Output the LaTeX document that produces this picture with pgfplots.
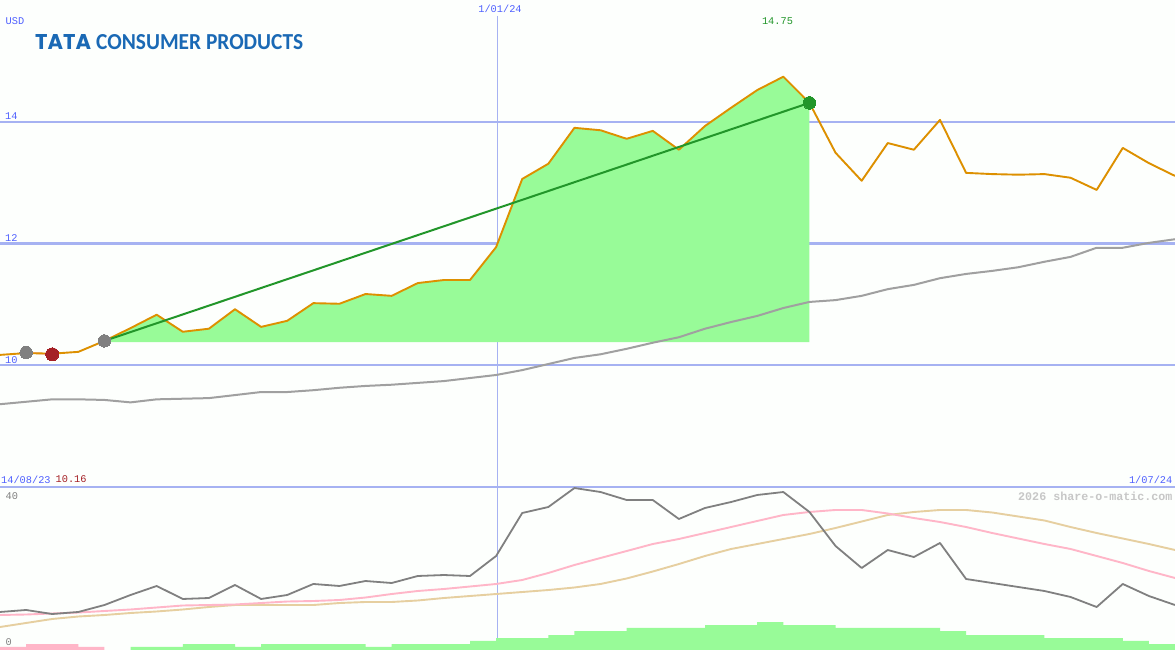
\documentclass[border=0pt]{standalone}
\usepackage{fontspec}
\usepackage{pgfplots}
\pgfplotsset{compat=1.18}
\usepackage{pgfplotstable}
\newfontfamily\mono{Liberation Mono}
\newfontfamily\logofont{Carlito}
\newfontfamily\logoheavy{Poppins}
\definecolor{bgc}{HTML}{FDFFFD}
\definecolor{gridc}{HTML}{A6B2F2}
\definecolor{sepc}{HTML}{7B8BEE}
\definecolor{txtblue}{HTML}{4F60FF}
\definecolor{pricec}{HTML}{DD9000}
\definecolor{fillg}{HTML}{98FB98}
\definecolor{trendg}{HTML}{22962A}
\definecolor{magray}{HTML}{A0A0A0}
\definecolor{dgray}{HTML}{808080}
\definecolor{pinkc}{HTML}{FFB6C8}
\definecolor{tanc}{HTML}{E6CFA0}
\definecolor{redc}{HTML}{A52025}
\definecolor{logoc}{HTML}{1A69B5}
\pgfplotstableread{
i price ma
0 10.17 9.36
1 10.20 9.40
2 10.19 9.44
3 10.22 9.44
4 10.40 9.43
5 10.61 9.39
6 10.83 9.44
7 10.55 9.45
8 10.60 9.46
9 10.92 9.51
10 10.63 9.56
11 10.73 9.56
12 11.02 9.59
13 11.01 9.63
14 11.17 9.66
15 11.14 9.68
16 11.35 9.71
17 11.40 9.74
18 11.40 9.79
19 11.94 9.84
20 13.06 9.92
21 13.31 10.02
22 13.90 10.12
23 13.86 10.18
24 13.72 10.27
25 13.85 10.37
26 13.54 10.46
27 13.93 10.60
28 14.23 10.71
29 14.52 10.81
30 14.74 10.94
31 14.31 11.04
32 13.49 11.07
33 13.03 11.14
34 13.65 11.25
35 13.54 11.32
36 14.03 11.43
37 13.16 11.50
38 13.14 11.55
39 13.13 11.61
40 13.14 11.70
41 13.08 11.78
42 12.88 11.93
43 13.57 11.93
44 13.32 12.01
45 13.11 12.07
}\pricetable
\pgfplotstableread{
i osc fast slow
0 9.33 8.59 5.64
1 9.82 8.71 6.63
2 8.83 8.96 7.61
3 9.33 9.20 8.22
4 11.04 9.57 8.59
5 13.50 9.94 9.08
6 15.71 10.43 9.45
7 12.52 10.92 9.94
8 12.76 11.04 10.55
9 15.95 11.17 11.04
10 12.52 11.53 11.04
11 13.50 11.90 11.04
12 16.20 12.02 11.04
13 15.71 12.27 11.53
14 16.93 12.88 11.78
15 16.44 13.74 11.78
16 18.16 14.48 12.15
17 18.40 14.97 12.76
18 18.16 15.58 13.25
19 23.07 16.20 13.74
20 33.62 17.18 14.23
21 35.09 18.90 14.72
22 39.75 20.86 15.34
23 38.77 22.58 16.20
24 36.81 24.29 17.55
25 36.81 26.01 19.26
26 32.15 27.24 21.10
27 34.85 28.71 23.07
28 36.32 30.18 24.79
29 38.04 31.66 26.01
30 38.77 33.13 27.24
31 33.87 33.87 28.47
32 25.52 34.36 29.94
33 20.12 34.36 31.53
34 24.54 33.50 33.13
35 22.82 32.39 33.87
36 26.26 31.41 34.36
37 17.42 30.18 34.36
38 16.44 28.71 33.74
39 15.46 27.36 32.76
40 14.48 26.01 31.78
41 13.01 24.79 30.18
42 10.55 23.07 28.71
43 16.20 21.35 27.36
44 13.25 19.39 26.01
45 11.04 17.67 24.54
}\osctable
\pgfplotsset{chartaxis/.style={
  scale only axis, width=1175pt, xmin=0, xmax=45, xtick=\empty,
  axis line style={draw=none}, tick style={draw=none}, major tick length=0pt,
  anchor=south west, clip=true,
  /pgf/number format/assume math mode=true,
  /tikz/line join=round}}
\begin{document}
\begin{tikzpicture}[x=1pt,y=1pt]
\path[use as bounding box] (0,0) rectangle (1175,650);
\fill[bgc] (0,0) rectangle (1175,650);
% --- price panel
\begin{axis}[chartaxis, at={(0pt,163pt)}, height=487pt, ymin=8, ymax=16,
  ytick={10,12,14}, ymajorgrids, major grid style={draw=gridc, line width=2.4pt},
  extra y ticks={8}, extra y tick labels={},
  extra tick style={grid style={draw=sepc, line width=2.4pt}},
  yticklabel style={font=\mono\fontsize{10.3}{10}\selectfont, text=txtblue, anchor=west, inner sep=0pt, xshift=5pt, yshift=5.5pt}]
\addplot[draw=gridc, line width=1.3pt, forget plot] coordinates {(19.04,15.74)(19.04,8)};
\addplot[fill=fillg, draw=none, forget plot] coordinates {(4,10.38)(4,10.40)(5,10.61)(6,10.83)(7,10.55)(8,10.60)(9,10.92)(10,10.63)(11,10.73)(12,11.02)(13,11.01)(14,11.17)(15,11.14)(16,11.35)(17,11.40)(18,11.40)(19,11.94)(20,13.06)(21,13.31)(22,13.90)(23,13.86)(24,13.72)(25,13.85)(26,13.54)(27,13.93)(28,14.23)(29,14.52)(30,14.74)(31,14.31)(31,10.38)} --cycle;
\addplot[draw=magray, line width=2pt, forget plot] table[x=i,y=ma]{\pricetable};
\addplot[draw=pinkc, line width=1.8pt, forget plot] coordinates {(1,10.21)(2,10.18)};
\addplot[only marks, mark=*, mark size=6.2pt, mark options={draw=dgray, fill=dgray, line width=0pt}, forget plot] coordinates {(1,10.21)(4,10.40)};
\addplot[only marks, mark=*, mark size=6.5pt, mark options={draw=redc, fill=redc, line width=0pt}, forget plot] coordinates {(2,10.18)};
\addplot[only marks, mark=*, mark size=6.3pt, mark options={draw=trendg, fill=trendg, line width=0pt}, forget plot] coordinates {(31,14.31)};
\addplot[draw=pricec, line width=1.9pt, forget plot] table[x=i,y=price]{\pricetable};
\addplot[draw=trendg, line width=2pt, forget plot] coordinates {(4,10.40)(31,14.31)};
\end{axis}
% --- oscillator panel
\begin{axis}[chartaxis, at={(0pt,0pt)}, height=163pt, ymin=0, ymax=40, ytick=\empty]
\addplot[draw=gridc, line width=1.3pt, forget plot] coordinates {(19.04,40)(19.04,0)};
\addplot[const plot, fill=pinkc, draw=none, forget plot] coordinates {(0,0.74)(1,1.47)(2,1.47)(3,0.74)(4,0)} \closedcycle;
\addplot[const plot, fill=fillg, draw=none, forget plot] coordinates {(5,0.74)(6,0.74)(7,1.47)(8,1.47)(9,0.74)(10,1.47)(11,1.47)(12,1.47)(13,1.47)(14,0.74)(15,1.47)(16,1.47)(17,1.47)(18,2.21)(19,2.94)(20,2.94)(21,3.68)(22,4.66)(23,4.66)(24,5.40)(25,5.40)(26,5.40)(27,6.13)(28,6.13)(29,6.87)(30,6.13)(31,6.13)(32,5.40)(33,5.40)(34,5.40)(35,5.40)(36,4.66)(37,3.68)(38,3.68)(39,3.68)(40,2.94)(41,2.94)(42,2.94)(43,2.21)(44,1.47)(45,1.47)} \closedcycle;
\addplot[draw=tanc, line width=1.9pt, forget plot] table[x=i,y=slow]{\osctable};
\addplot[draw=pinkc, line width=1.9pt, forget plot] table[x=i,y=fast]{\osctable};
\addplot[draw=dgray, line width=1.8pt, forget plot] table[x=i,y=osc]{\osctable};
\end{axis}
% --- labels
\def\fs{\mono\fontsize{10.3}{10}\selectfont}
\tikzset{lab/.style={inner sep=0pt, font=\fs}}
\node[lab, anchor=west, text=txtblue] at (5.5,629) {USD};
\node[lab, text=txtblue] at (500,641.5) {1/01/24};
\node[lab, text=trendg] at (777.5,629) {14.75};
\node[lab, anchor=west, text=txtblue] at (1,170.5) {14/08/23};
\node[lab, anchor=west, text=redc] at (55.5,170.5) {10.16};
\node[lab, anchor=east, text=txtblue] at (1172.5,170.5) {1/07/24};
\node[lab, anchor=west, text=dgray] at (5.5,154) {40};
\node[lab, anchor=west, text=dgray] at (5.5,8) {0};
\node[inner sep=0pt, anchor=east, text=black!22] at (1172.5,154) {\mono\bfseries\fontsize{11.67}{12}\selectfont 2026 share-o-matic.com};
% --- logo
\node[inner sep=0pt, anchor=base west, text=logoc] at (35,600.5) {\resizebox{56pt}{15pt}{\logoheavy\bfseries TATA}};
\node[inner sep=0pt, anchor=base west, text=logoc] at (96,600.5) {\resizebox{207pt}{15pt}{\logofont\bfseries CONSUMER PRODUCTS}};
\end{tikzpicture}
\end{document}
